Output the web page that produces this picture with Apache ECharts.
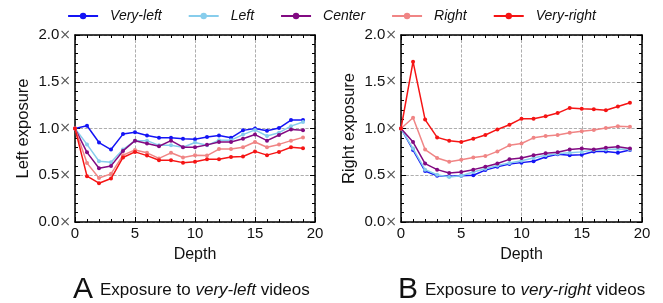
<!DOCTYPE html>
<html>
<head>
<meta charset="utf-8">
<script src="https://cdn.jsdelivr.net/npm/echarts@6/dist/echarts.min.js"></script>
<style>
  html, body { margin: 0; padding: 0; background: #fff; }
  #chart { width: 663px; height: 303px; }
</style>
</head>
<body>
<div id="chart"></div>
<script>
// depth steps
var depth = [0, 1, 2, 3, 4, 5, 6, 7, 8, 9, 10, 11, 12, 13, 14, 15, 16, 17, 18, 19];
var yTicks = [0, 0.5, 1.0, 1.5, 2.0];
var seriesNames = ['Very-left', 'Left', 'Center', 'Right', 'Very-right'];
var colors = ['#1414f5', '#87cdec', '#820a82', '#f08585', '#f51414'];

// A: exposure to very-left videos
var leftVeryLeft  = [1.0, 1.03, 0.85, 0.775, 0.94, 0.96, 0.925, 0.90, 0.90, 0.89, 0.885, 0.91, 0.925, 0.90, 0.98, 1.0, 0.975, 1.005, 1.09, 1.09];
var leftLeft      = [1.0, 0.83, 0.65, 0.64, 0.775, 0.87, 0.87, 0.82, 0.82, 0.80, 0.85, 0.82, 0.875, 0.875, 0.935, 0.985, 0.92, 0.955, 1.025, 1.07];
var leftCenter    = [1.0, 0.745, 0.575, 0.60, 0.76, 0.87, 0.84, 0.81, 0.87, 0.80, 0.80, 0.825, 0.855, 0.855, 0.89, 0.935, 0.87, 0.93, 0.99, 0.98];
var leftRight     = [1.0, 0.63, 0.47, 0.515, 0.715, 0.77, 0.74, 0.68, 0.74, 0.69, 0.715, 0.71, 0.78, 0.78, 0.80, 0.855, 0.80, 0.83, 0.87, 0.905];
var leftVeryRight = [1.0, 0.49, 0.415, 0.465, 0.69, 0.75, 0.71, 0.66, 0.66, 0.635, 0.645, 0.67, 0.67, 0.695, 0.70, 0.755, 0.715, 0.75, 0.80, 0.79];

// B: exposure to very-right videos
var rightVeryLeft  = [1.0, 0.77, 0.545, 0.495, 0.49, 0.495, 0.50, 0.555, 0.59, 0.62, 0.635, 0.65, 0.695, 0.725, 0.715, 0.72, 0.755, 0.755, 0.74, 0.77];
var rightLeft      = [1.0, 0.785, 0.56, 0.505, 0.48, 0.495, 0.535, 0.57, 0.605, 0.63, 0.655, 0.685, 0.715, 0.73, 0.74, 0.75, 0.77, 0.775, 0.78, 0.775];
var rightCenter    = [1.0, 0.855, 0.625, 0.56, 0.525, 0.535, 0.56, 0.59, 0.625, 0.67, 0.685, 0.715, 0.735, 0.745, 0.775, 0.785, 0.775, 0.795, 0.805, 0.785];
var rightRight     = [1.0, 1.115, 0.775, 0.685, 0.645, 0.665, 0.69, 0.705, 0.755, 0.82, 0.84, 0.90, 0.92, 0.93, 0.955, 0.97, 0.985, 1.005, 1.025, 1.02];
var rightVeryRight = [1.0, 1.715, 1.095, 0.905, 0.87, 0.855, 0.89, 0.93, 0.99, 1.04, 1.105, 1.105, 1.13, 1.165, 1.22, 1.21, 1.205, 1.195, 1.235, 1.275];

var leftData = [leftVeryLeft, leftLeft, leftCenter, leftRight, leftVeryRight];
var rightData = [rightVeryLeft, rightLeft, rightCenter, rightRight, rightVeryRight];

var font = 'Liberation Sans, Arial, sans-serif';

function pairs(vals) {
  return depth.map(function (d, i) { return [d, vals[i]]; });
}

// main axes with labels
function xAxisMain(gi) {
  return {
    type: 'value', gridIndex: gi, min: 0, max: 20, interval: 5,
    name: 'Depth', nameLocation: 'middle', nameGap: 25,
    nameTextStyle: { fontFamily: font, fontSize: 16, color: '#111' },
    axisLine: { show: true, onZero: false, lineStyle: { color: '#000', width: 1.5 } },
    axisTick: { show: true, inside: true, length: 5, lineStyle: { color: '#000' } },
    minorTick: { show: true, splitNumber: 5, length: 3, lineStyle: { color: '#000' } },
    axisLabel: { fontFamily: font, fontSize: 15, color: '#111', margin: 4 },
    splitLine: { show: true, lineStyle: { color: '#999', type: 'dashed', width: 0.8 } }
  };
}
function yAxisMain(gi, name) {
  return {
    type: 'value', gridIndex: gi, min: 0, max: 2, interval: 0.5,
    name: name, nameLocation: 'middle', nameGap: 43,
    nameTextStyle: { fontFamily: font, fontSize: 16.5, color: '#111' },
    axisLine: { show: true, onZero: false, lineStyle: { color: '#000', width: 1.5 } },
    axisTick: { show: true, inside: true, length: 5, lineStyle: { color: '#000' } },
    minorTick: { show: true, splitNumber: 5, length: 3, lineStyle: { color: '#000' } },
    axisLabel: {
      fontFamily: font, fontSize: 15, color: '#111', margin: 4,
      formatter: function (v) { return v.toFixed(1) + '{x|×}'; },
      rich: { x: { fontFamily: 'DejaVu Sans', fontSize: 14, color: '#555' } }
    },
    splitLine: { show: true, lineStyle: { color: '#999', type: 'dashed', width: 0.8 } }
  };
}
// mirror axes (top / right) only ticks
function xAxisTop(gi) {
  return {
    type: 'value', gridIndex: gi, min: 0, max: 20, interval: 5, position: 'top',
    axisLine: { show: true, onZero: false, lineStyle: { color: '#000', width: 1.5 } },
    axisTick: { show: true, inside: true, length: 5, lineStyle: { color: '#000' } },
    minorTick: { show: true, splitNumber: 5, length: 3, lineStyle: { color: '#000' } },
    axisLabel: { show: false }, splitLine: { show: false }
  };
}
function yAxisRight(gi) {
  return {
    type: 'value', gridIndex: gi, min: 0, max: 2, interval: 0.5, position: 'right',
    axisLine: { show: true, onZero: false, lineStyle: { color: '#000', width: 1.5 } },
    axisTick: { show: true, inside: true, length: 5, lineStyle: { color: '#000' } },
    minorTick: { show: true, splitNumber: 5, length: 3, lineStyle: { color: '#000' } },
    axisLabel: { show: false }, splitLine: { show: false }
  };
}

var series = [];
seriesNames.forEach(function (name, k) {
  [leftData, rightData].forEach(function (set, gi) {
    series.push({
      name: name, type: 'line', xAxisIndex: gi * 2, yAxisIndex: gi * 2,
      data: pairs(set[k]),
      symbol: 'circle', symbolSize: 4, showSymbol: true,
      lineStyle: { color: colors[k], width: 1.5 },
      itemStyle: { color: colors[k] },
      animation: false, z: 3 + k
    });
  });
});

var captionRich = {
  big: { fontFamily: font, fontSize: 30, fontWeight: 'normal', color: '#111', padding: [0, 7, 0, 0] },
  n: { fontFamily: font, fontSize: 17, fontWeight: 'normal', color: '#111' },
  i: { fontFamily: font, fontSize: 17, fontWeight: 'normal', color: '#111', fontStyle: 'italic' }
};

var option = {
  animation: false,
  color: colors,
  legend: {
    top: 4, left: 'center',
    itemWidth: 30, itemHeight: 8, itemGap: 26,
    textStyle: { fontFamily: font, fontSize: 14, fontStyle: 'italic', color: '#111', padding: [0, 0, 0, 7] },
    data: seriesNames
  },
  title: [
    { text: '{big|A}{n|Exposure to }{i|very-left}{n| videos}', left: 68, top: 270, textStyle: { rich: captionRich } },
    { text: '{big|B}{n|Exposure to }{i|very-right}{n| videos}', left: 393, top: 270, textStyle: { rich: captionRich } }
  ],
  grid: [
    { left: 75, top: 35, width: 240, height: 187 },
    { left: 401, top: 35, width: 241, height: 187 }
  ],
  xAxis: [xAxisMain(0), xAxisTop(0), xAxisMain(1), xAxisTop(1)],
  yAxis: [yAxisMain(0, 'Left exposure'), yAxisRight(0), yAxisMain(1, 'Right exposure'), yAxisRight(1)],
  series: series
};

var myChart = echarts.init(document.getElementById('chart'));
myChart.setOption(option);
</script>
</body>
</html>
